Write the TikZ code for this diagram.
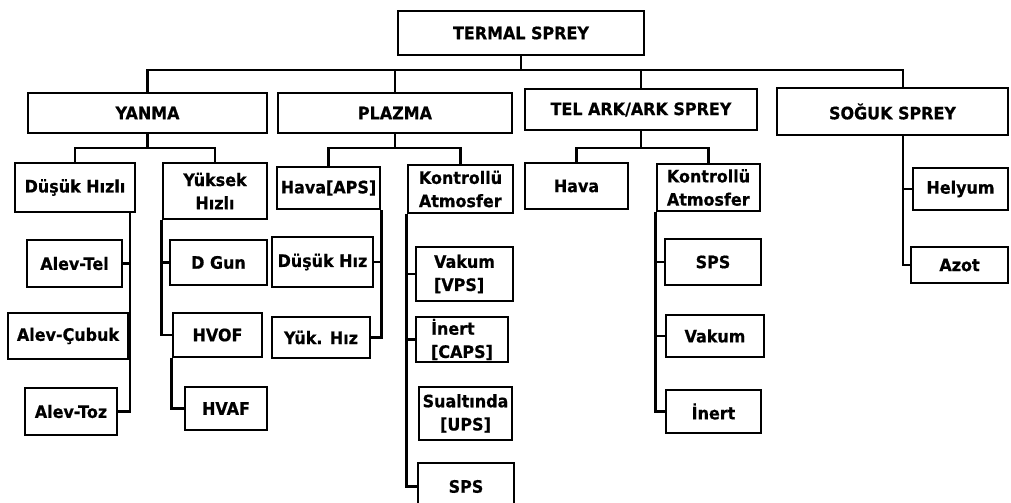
\documentclass[tikz,border=0pt]{standalone}
\usepackage{fontspec}
\newfontfamily\boxfont{DejaVu Sans Bold}[FakeStretch=0.93, FakeBold=0.6]
\usepackage{tikz}
\usetikzlibrary{calc}

\begin{document}
\begin{tikzpicture}[x=0.025cm, y=-0.025cm,
    box/.style={draw, line width=2.1pt, inner sep=1pt, align=center,
        font=\boxfont\fontsize{12.2}{16.5}\selectfont},
    sz/.style 2 args={minimum width=#1*\px, minimum height=#2*\px},
    conn/.style={line width=1.8pt}]

    % Define parameters
    \def\px{0.025cm}  % one pixel of the reference

    \useasboundingbox (0,0) rectangle (1011,503);

    % Top level
    \node[box, sz={246}{44}] (termal) at (521,33) {TERMAL SPREY};

    % Main groups
    \node[box, sz={239}{40}] (yanma) at (147.5,113) {YANMA};
    \node[box, sz={234}{40}] (plazma) at (395,113) {PLAZMA};
    \node[box, sz={232}{41}] (telark) at (641,109.5) {TEL ARK/ARK SPREY};
    \node[box, sz={231}{47}] (soguk) at (892.5,111.5) {SOĞUK SPREY};

    % Yanma branch
    \node[box, sz={120}{49}] (dusuk) at (75,187.5) {Düşük Hızlı};
    \node[box, sz={104}{56}] (yuksek) at (215,191) {Yüksek\\Hızlı};
    \node[box, sz={95}{47}] (alevtel) at (74.5,263.5) {Alev-Tel};
    \node[box, sz={120}{46}] (alevcubuk) at (68,336) {Alev-Çubuk};
    \node[box, sz={92}{47}] (alevtoz) at (71,411.5) {Alev-Toz};
    \node[box, sz={97}{45}] (dgun) at (218.5,262.5) {D Gun};
    \node[box, sz={89}{44}] (hvof) at (217.5,335) {HVOF};
    \node[box, sz={82}{43}] (hvaf) at (226,408.5) {HVAF};

    % Plazma branch
    \node[box, sz={103}{42}] (havaaps) at (328.5,188) {Hava[APS]};
    \node[box, sz={105}{48}, align=left] (pkontrol) at (460.5,189) {Kontrollü\\Atmosfer};
    \node[box, sz={101}{50}] (dusukhiz) at (322.5,262) {Düşük Hız};
    \node[box, sz={98}{41}] (yukhiz) at (321,337.5) {Yük. Hız};
    \node[box, sz={97}{54}, align=left] (pvakum) at (464.5,274) {Vakum\\{[VPS]}};
    \node[box, sz={92}{45}, align=left] (pinert) at (462,339.5) {İnert\\{[CAPS]}};
    \node[box, sz={93}{53}] (sualtinda) at (465.5,413.5) {Sualtında\\{[UPS]}};
    \node[box, sz={96}{47}] (psps) at (466,486.5) {SPS};

    % Tel ark branch
    \node[box, sz={103}{46}] (thava) at (576.5,186) {Hava};
    \node[box, sz={103}{47}, align=left] (tkontrol) at (708.5,187.5) {Kontrollü\\Atmosfer};
    \node[box, sz={96}{46}] (tsps) at (713,262) {SPS};
    \node[box, sz={98}{42}] (tvakum) at (715,336) {Vakum};
    \node[box, sz={95}{43}] (tinert) at (713.5,411.5) {İnert};

    % Soguk branch
    \node[box, sz={95}{42}] (helyum) at (960.5,189) {Helyum};
    \node[box, sz={97}{36}] (azot) at (959.5,265) {Azot};

    % Bus lines and trunks
    \coordinate (bus1) at (0,70);
    \coordinate (bus2) at (0,148);
    \coordinate (dtrunk) at (130,212);
    \coordinate (strunk) at (903,135);

    % Top level connectors
    \draw[conn] (termal.south) -- (termal.south |- bus1);
    \draw[conn] (yanma.north) |- (strunk |- bus1) -- (strunk |- soguk.north);
    \draw[conn] (plazma.north) -- (plazma.north |- bus1);
    \draw[conn] (telark.north) -- (telark.north |- bus1);

    % Yanma connectors
    \draw[conn] (yanma.south) -- (yanma.south |- bus2);
    \draw[conn] (dusuk.north) |- (bus2 -| yuksek.north) -- (yuksek.north);
    \draw[conn] (dtrunk) |- (alevtoz.east);
    \draw[conn] (alevtel.east) -- (alevtel.east -| dtrunk);
    \draw[conn] (alevcubuk.east) -- (alevcubuk.east -| dtrunk);
    \draw[conn] (yuksek.south west) |- (hvof.west);
    \draw[conn] (dgun.west) -- (dgun.west -| yuksek.south west);
    \draw[conn] (hvof.south west) |- (hvaf.west);

    % Plazma connectors
    \draw[conn] (plazma.south) -- (plazma.south |- bus2);
    \draw[conn] (havaaps.north) |- (bus2 -| pkontrol.north) -- (pkontrol.north);
    \draw[conn] (havaaps.south east) |- (yukhiz.east);
    \draw[conn] (dusukhiz.east) -- (dusukhiz.east -| havaaps.south east);
    \draw[conn] (pkontrol.south west) |- (psps.west);
    \draw[conn] (pvakum.west) -- (pvakum.west -| pkontrol.south west);
    \draw[conn] (pinert.west) -- (pinert.west -| pkontrol.south west);

    % Tel ark connectors
    \draw[conn] (telark.south) -- (telark.south |- bus2);
    \draw[conn] (thava.north) |- (bus2 -| tkontrol.north) -- (tkontrol.north);
    \draw[conn] (tkontrol.south west) |- (tinert.west);
    \draw[conn] (tsps.west) -- (tsps.west -| tkontrol.south west);
    \draw[conn] (tvakum.west) -- (tvakum.west -| tkontrol.south west);

    % Soguk connectors
    \draw[conn] (strunk) |- (azot.west);
    \draw[conn] (helyum.west) -- (helyum.west -| strunk);

\end{tikzpicture}
\end{document}
